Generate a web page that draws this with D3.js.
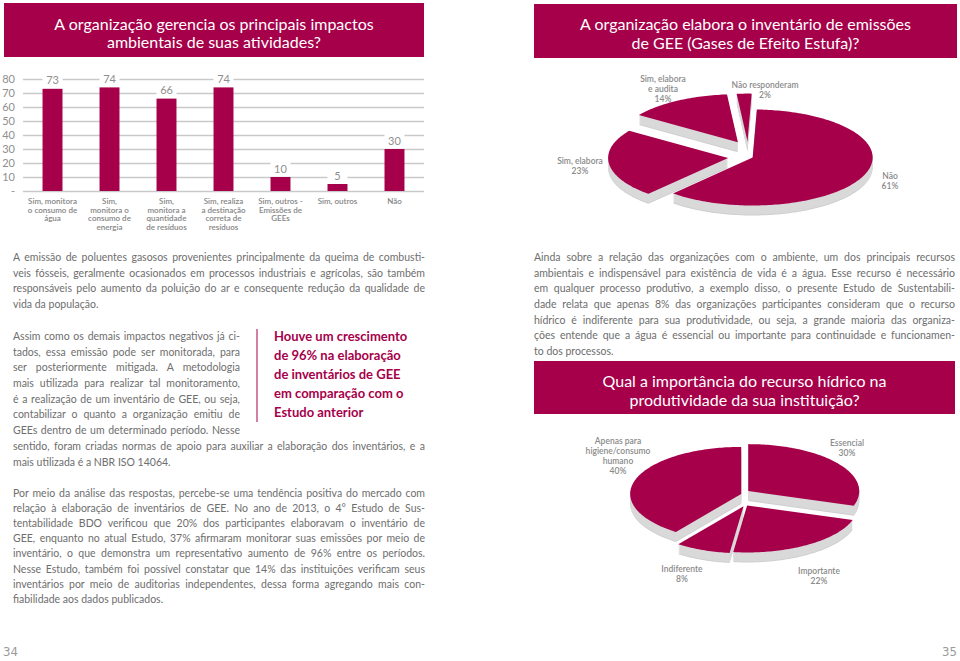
<!DOCTYPE html>
<html><head><meta charset="utf-8">
<script src="https://cdn.jsdelivr.net/npm/d3@7"></script>
<style>
body{margin:0;background:#fff}
svg{display:block;font-family:Lato,'Open Sans',sans-serif}
</style>
</head><body>
<svg id="c" width="960" height="661"></svg>
<script>
// ---------- DATA ----------
const barCategories = ["Sim, monitora|o consumo de|água","Sim,|monitora o|consumo de|energia","Sim,|monitora a|quantidade|de resíduos","Sim, realiza|a destinação|correta de|resíduos","Sim, outros -|Emissões de|GEEs","Sim, outros","Não"];
const barValues = [73,74,66,74,10,5,30];
const barTicks = [0,10,20,30,40,50,60,70,80];

const geeCategories = ["Não","Sim, elabora","Sim, elabora|e audita","Não responderam"];
const geeValues = [61,23,14,2];

const waterCategories = ["Essencial","Importante","Indiferente","Apenas para|higiene/consumo|humano"];
const waterValues = [30,22,8,40];

const titleLeft = ["A organização gerencia os principais impactos","ambientais de suas atividades?"];
const titleRight = ["A organização elabora o inventário de emissões","de GEE (Gases de Efeito Estufa)?"];
const titleWater = ["Qual a importância do recurso hídrico na","produtividade da sua instituição?"];

const para1 = ["A emissão de poluentes gasosos provenientes principalmente da queima de combusti-","veis fósseis, geralmente ocasionados em processos industriais e agrícolas, são também","responsáveis pelo aumento da poluição do ar e consequente redução da qualidade de","vida da população."];
const para2a = ["Assim como os demais impactos negativos já ci-","tados, essa emissão pode ser monitorada, para","ser posteriormente mitigada. A metodologia","mais utilizada para realizar tal monitoramento,","é a realização de um inventário de GEE, ou seja,","contabilizar o quanto a organização emitiu de","GEEs dentro de um determinado período. Nesse"];
const para2b = ["sentido, foram criadas normas de apoio para auxiliar a elaboração dos inventários, e a","mais utilizada é a NBR ISO 14064."];
const para3 = ["Por meio da análise das respostas, percebe-se uma tendência positiva do mercado com","relação à elaboração de inventários de GEE. No ano de 2013, o 4° Estudo de Sus-","tentabilidade BDO verificou que 20% dos participantes elaboravam o inventário de","GEE, enquanto no atual Estudo, 37% afirmaram monitorar suas emissões por meio de","inventário, o que demonstra um representativo aumento de 96% entre os períodos.","Nesse Estudo, também foi possível constatar que 14% das instituições verificam seus","inventários por meio de auditorias independentes, dessa forma agregando mais con-","fiabilidade aos dados publicados."];
const paraRight = ["Ainda sobre a relação das organizações com o ambiente, um dos principais recursos","ambientais e indispensável para existência de vida é a água. Esse recurso é necessário","em qualquer processo produtivo, a exemplo disso, o presente Estudo de Sustentabili-","dade relata que apenas 8% das organizações participantes consideram que o recurso","hídrico é indiferente para sua produtividade, ou seja, a grande maioria das organiza-","ções entende que a água é essencial ou importante para continuidade e funcionamen-","to dos processos."];
const callout = ["Houve um crescimento","de 96% na elaboração","de inventários de GEE","em comparação com o","Estudo anterior"];
const pageNumbers = ["34","35"];

// ---------- STYLE ----------
const CRIMSON = "#a6004a";
const TEXT = "#6e6e6e";
const LABEL = "#8a8a8a";
const WALL = "#d9d9d9";

const svg = d3.select("#c");

// ---------- Title boxes ----------
function titleBox(x, y, w, h, lines, lineYs, fs) {
  svg.append("rect").attr("x", x).attr("y", y).attr("width", w).attr("height", h).attr("fill", CRIMSON);
  lines.forEach((t, i) => svg.append("text").attr("x", x + w / 2).attr("y", lineYs[i])
    .attr("text-anchor", "middle").attr("dominant-baseline", "central")
    .attr("fill", "#fff").attr("font-size", fs).text(t));
}
titleBox(4, 3, 420, 54, titleLeft, [23, 41.5], 16);
titleBox(534, 4, 423, 54, titleRight, [23, 42], 16);
titleBox(534, 361, 421, 53, titleWater, [380, 399], 16);

// ---------- Bar chart ----------
const bar = svg.append("g");
const y = d3.scaleLinear().domain([0, 80]).range([191, 79]);
const x = d3.scaleBand().domain(barCategories).range([23.5, 423.5]).paddingInner(0.65).paddingOuter(0.334);

const yAxis = bar.append("g").attr("transform", "translate(23,0)")
  .call(d3.axisLeft(y).tickValues(barTicks).tickFormat(d => d === 0 ? "-" : d).tickSize(-401).tickPadding(8));
yAxis.select(".domain").remove();
yAxis.selectAll(".tick line").attr("stroke", "#c9c9c9").attr("stroke-width", 1.4);
yAxis.selectAll(".tick text").attr("fill", "#8f8f8f").attr("font-size", 11).attr("font-family", "Lato, sans-serif");

bar.selectAll("rect.bar").data(barValues).join("rect").attr("class", "bar")
  .attr("x", (d, i) => x(barCategories[i])).attr("width", x.bandwidth())
  .attr("y", d => y(d)).attr("height", d => y(0) - y(d)).attr("fill", CRIMSON);

const vl = bar.selectAll("g.vl").data(barValues).join("g").attr("class", "vl")
  .attr("transform", (d, i) => `translate(${x(barCategories[i]) + x.bandwidth() / 2},${y(d) - 9})`);
vl.append("rect").attr("x", -10).attr("y", -6).attr("width", 20).attr("height", 12).attr("fill", "#fff");
vl.append("text").attr("text-anchor", "middle").attr("dominant-baseline", "central")
  .attr("fill", "#8f8f8f").attr("font-size", 11).text(d => d);

barCategories.forEach(c => {
  const t = bar.append("text").attr("text-anchor", "middle").attr("fill", "#858585")
    .attr("font-size", 8).attr("font-weight", 600);
  c.split("|").forEach((ln, j) => t.append("tspan").attr("x", x(c) + x.bandwidth() / 2)
    .attr("y", 204 + j * 8.7).text(ln));
});

// ---------- 3D pies ----------
function pie3d(cats, vals, o) {
  const g = svg.append("g");
  const arcs = d3.pie().sort(null).startAngle(o.start).endAngle(o.start + 2 * Math.PI)(vals);
  arcs.forEach((a, i) => {
    a.mid = (a.startAngle + a.endAngle) / 2;
    a.ox = Math.sin(a.mid) * o.explode[i];
    a.oy = -Math.cos(a.mid) * o.explode[i] * o.k;
  });
  const shape = (a, dy) => {
    const n = Math.max(3, Math.ceil((a.endAngle - a.startAngle) / 0.02));
    const cx = o.cx + a.ox, cy = o.cy + a.oy + dy;
    const pts = [[cx, cy]];
    for (let j = 0; j <= n; j++) {
      const t = a.startAngle + (a.endAngle - a.startAngle) * j / n;
      pts.push([cx + o.rx * Math.sin(t), cy - o.ry * Math.cos(t)]);
    }
    return d3.line()(pts) + "Z";
  };
  arcs.forEach(a => {
    for (let d = o.depth; d >= 1; d--) {
      g.append("path").attr("d", shape(a, d)).attr("fill", d === o.depth ? "#cfcfcf" : WALL);
    }
  });
  arcs.forEach(a => g.append("path").attr("d", shape(a, 0)).attr("fill", CRIMSON));
  arcs.forEach((a, i) => {
    const lines = cats[i].split("|").concat([vals[i] + "%"]);
    const lx = o.cx + o.labels[i][0], ly = o.cy + o.labels[i][1];
    const t = g.append("text").attr("text-anchor", "middle").attr("fill", LABEL)
      .attr("font-size", o.fs).attr("font-weight", 600);
    lines.forEach((ln, j) => t.append("tspan").attr("x", lx)
      .attr("y", ly + (j - (lines.length - 1) / 2) * o.lh).attr("dy", "0.35em").text(ln));
  });
}
pie3d(geeCategories, geeValues, {
  cx: 748, cy: 156, rx: 120, ry: 48, depth: 10, start: 2 * Math.PI / 180,
  explode: [5, 20, 20, 18], k: 0.8, fs: 8.5, lh: 10,
  labels: [[142, 25], [-168, 10], [-85, -67], [17, -66]]
});
pie3d(waterCategories, waterValues, {
  cx: 745, cy: 497, rx: 111, ry: 47, depth: 10, start: 0,
  explode: [4, 4, 4, 4], k: 2.5, fs: 8.5, lh: 9.8,
  labels: [[102, -49], [74, 79], [-63, 77], [-127, -41]]
});

// ---------- Paragraphs ----------
function para(lines, x0, y0, lh, width, justifyLast, opts = {}) {
  lines.forEach((ln, i) => {
    const t = svg.append("text").attr("x", x0).attr("y", y0 + i * lh + 3.8)
      .attr("fill", opts.color || TEXT).attr("font-size", opts.fs || 10.5)
      .attr("font-weight", opts.fw || 400).text(ln);
    if (width && (i < lines.length - 1 || justifyLast)) {
      const nat = t.node().getComputedTextLength();
      const sp = (ln.match(/ /g) || []).length;
      if (sp) t.attr("word-spacing", (width - nat) / sp);
    }
  });
}
para(para1, 13, 257, 15.7, 412, false);
para(para2a, 13, 336, 15.7, 227, true);
para(para2b, 13, 446, 15.7, 412, false);
para(para3, 13, 493, 15.15, 412, false);
para(paraRight, 534, 257, 15.7, 421, false);
para(callout, 274, 337, 19, 0, false, { color: CRIMSON, fs: 13, fw: 700 });
svg.append("line").attr("x1", 257).attr("x2", 257).attr("y1", 329).attr("y2", 422)
  .attr("stroke", CRIMSON).attr("stroke-width", 1);

// ---------- Page numbers ----------
svg.append("text").attr("x", 3).attr("y", 656).attr("fill", "#9a9a9a").attr("font-size", 13)
  .attr("font-family", "'Liberation Sans Narrow','DejaVu Sans Condensed',sans-serif").text(pageNumbers[0]);
svg.append("text").attr("x", 957).attr("y", 656).attr("text-anchor", "end").attr("fill", "#9a9a9a").attr("font-size", 13)
  .attr("font-family", "'Liberation Sans Narrow','DejaVu Sans Condensed',sans-serif").text(pageNumbers[1]);
</script>
</body></html>
